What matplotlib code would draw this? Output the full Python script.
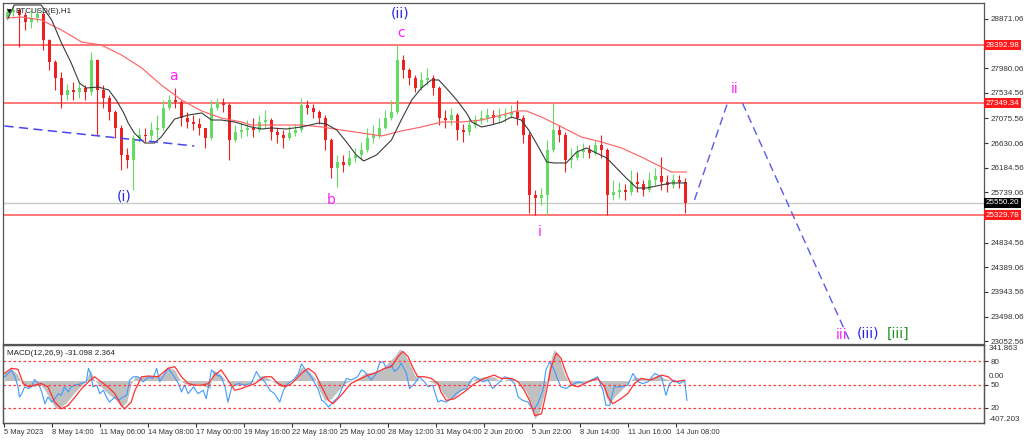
import numpy as np
import matplotlib
matplotlib.use("Agg")
import matplotlib.pyplot as plt

plt.rcParams['font.family'] = ['Liberation Sans', 'DejaVu Sans']

# ---- price data: one candle per 8 hourly bars ----
first_open = 28885
close = [28994, 29030, 28939, 28813, 28885, 28957, 28488, 28092, 27803, 27496,
         27586, 27550, 27622, 27550, 28128, 27586, 27442, 27190, 26901, 26414,
         26324, 26720, 26775, 26757, 26865, 26901, 27262, 27406, 27370, 27081,
         27009, 26973, 26901, 26720, 27262, 27352, 27316, 26684, 26829, 26865,
         26901, 26865, 27009, 27045, 26829, 26775, 26720, 26811, 26865, 27316,
         27262, 27190, 27081, 26684, 26179, 26288, 26233, 26360, 26414, 26504,
         26720, 26775, 26901, 27081, 27190, 28128, 27947, 27803, 27622, 27767,
         27803, 27622, 27081, 27045, 27135, 26865, 26829, 26955, 27045, 27081,
         27135, 27081, 27117, 27135, 27190, 27081, 26775, 25692, 25638, 25692,
         26504, 26865, 26775, 26324, 26360, 26468, 26504, 26450, 26594, 26504,
         25692, 25746, 25782, 25746, 25927, 25891, 25782, 25963, 26035, 25927,
         25873, 25963, 25927, 25550]
high = [29066, 29120, 29066, 28994, 29030, 29048, 28994, 28500, 28128, 27911,
        27695, 27731, 27731, 27677, 28272, 28150, 27677, 27496, 27226, 26955,
        26540, 26775, 26901, 26901, 27009, 27135, 27406, 27496, 27622, 27406,
        27190, 27135, 27081, 26901, 27406, 27442, 27442, 27350, 26955, 27009,
        27045, 27081, 27135, 27226, 27081, 26901, 26865, 26937, 26973, 27442,
        27406, 27334, 27226, 27135, 26720, 26414, 26414, 26504, 26540, 26648,
        26901, 26955, 27081, 27226, 27406, 28398, 28218, 27983, 27850, 27911,
        27983, 27850, 27660, 27226, 27262, 27180, 26973, 27081, 27135, 27226,
        27262, 27226, 27262, 27262, 27316, 27406, 27135, 26820, 25782, 25818,
        26684, 27352, 26955, 26820, 26540, 26594, 26630, 26594, 26684, 26775,
        26540, 25963, 25927, 25891, 26143, 26107, 25963, 26107, 26179, 26378,
        26053, 26071, 26053, 25999]
low = [28849, 28921, 28362, 28669, 28705, 28813, 28308, 27947, 27586, 27262,
       27406, 27406, 27442, 27406, 27496, 26775, 27262, 27045, 26720, 26143,
       26179, 25782, 26648, 26648, 26684, 26720, 26865, 27226, 27262, 26937,
       26901, 26865, 26775, 26540, 26684, 27226, 27190, 26324, 26648, 26720,
       26757, 26739, 26829, 26901, 26684, 26630, 26540, 26684, 26757, 26829,
       27153, 27081, 26973, 26504, 25999, 25837, 26107, 26215, 26288, 26324,
       26468, 26630, 26720, 26880, 27045, 27150, 27803, 27677, 27550, 27586,
       27677, 27496, 26955, 26901, 26955, 26684, 26648, 26775, 26901, 26973,
       27009, 26973, 26991, 27009, 27081, 26955, 26630, 25367, 25331, 25512,
       25331, 26468, 26648, 26107, 26179, 26324, 26360, 26360, 26414, 26360,
       25331, 25602, 25638, 25602, 25692, 25746, 25674, 25746, 25873, 25782,
       25746, 25818, 25818, 25367]

# moving averages (bar index, price)
red_ma_bar = [3, 23, 49, 76, 103, 129, 156, 183, 209, 236, 263, 289, 316, 329, 369, 396,
              423, 449, 476, 503, 529, 556, 583, 609, 636, 663, 683, 696, 716, 743, 769,
              796, 823, 849, 876, 889, 909]
red_ma = [28885, 28903, 28849, 28669, 28452, 28398, 28218, 27983, 27677, 27406, 27208,
          27081, 27009, 26955, 26955, 26955, 26919, 26865, 26811, 26757, 26847, 26919,
          27009, 27009, 27045, 27135, 27208, 27208, 27099, 26919, 26739, 26648, 26540,
          26378, 26197, 26107, 26107]
black_ma_bar = [5, 13, 49, 63, 76, 89, 100, 109, 125, 139, 149, 159, 165, 173, 187, 200,
                209, 219, 227, 245, 263, 276, 289, 307, 329, 343, 356, 376, 396, 419, 429,
                443, 456, 469, 479, 496, 516, 529, 543, 556, 569, 579, 589, 603, 616, 623,
                636, 649, 663, 676, 689, 699, 712, 723, 733, 749, 763, 776, 789, 803, 816,
                829, 843, 856, 876, 889, 909]
black_ma = [28885, 29120, 29120, 28849, 28434, 28073, 27713, 27622, 27640, 27586, 27406,
            27172, 26991, 26811, 26630, 26630, 26739, 26919, 27063, 27135, 27172, 27045,
            27045, 27009, 26919, 26883, 26901, 26883, 26919, 26991, 26973, 26865, 26648,
            26414, 26306, 26414, 26684, 27045, 27406, 27622, 27767, 27767, 27622, 27406,
            27172, 27009, 26919, 26955, 27009, 27099, 27045, 26865, 26558, 26288, 26270,
            26270, 26468, 26540, 26450, 26360, 26179, 25999, 25818, 25818, 25873, 25909,
            25909]

# levels and drawn lines
red_levels = [28392.98, 27349.34, 25329.78]
last_price = 25550.20
price_ticks = [28871.06, 27980.06, 27534.56, 27075.56, 26630.06, 26184.56, 25739.06,
               24834.56, 24389.06, 23943.56, 23498.06, 23052.56]
trend_bar = [0, 253]
trend_price = [26937, 26576]
proj_up_bar = [920, 964]
proj_up_price = [25602, 27349]
proj_down_bar = [984, 1128]
proj_down_price = [27349, 23022]

wave_text = ['(i)', 'a', 'b', '(ii)', 'c', 'i', 'ii', 'iii', '(iii)', '[iii]']
wave_bar = [160, 225, 436, 527, 529, 713, 973, 1116, 1152, 1192]
wave_price = [25656, 27839, 25602, 28975, 28615, 25025, 27604, 23166, 23185, 23185]
wave_color = ['#2424ee', '#ff22ff', '#ff22ff', '#2424ee', '#ff22ff', '#ff22ff',
              '#ff22ff', '#ff22ff', '#2424ee', '#1f8f1f']

# ---- MACD panel ----
macd_bar = [0, 9, 18, 23, 32, 40, 49, 54, 63, 69, 76, 85, 94, 103, 109, 114, 120, 129,
            138, 147, 156, 163, 169, 174, 183, 192, 200, 209, 218, 227, 234, 240, 249,
            258, 267, 274, 278, 287, 294, 303, 312, 325, 334, 343, 352, 360, 369, 378,
            387, 396, 405, 414, 420, 427, 436, 445, 454, 458, 471, 480, 493, 502, 511,
            520, 527, 533, 540, 547, 553, 565, 578, 585, 591, 600, 609, 618, 627, 640,
            653, 662, 671, 680, 689, 696, 702, 707, 713, 720, 727, 733, 740, 747, 756,
            765, 773, 787, 796, 802, 807, 813, 822, 831, 840, 849, 858, 871, 880, 889,
            898, 907]
macd = [69, 118, 53, -28, -60, -54, -44, -93, -206, -271, -255, -190, -109, -44, 5, 102,
        5, -60, -125, -174, -255, -206, -28, 37, 37, 44, 37, 53, 134, 102, 5, -28, -44,
        -28, -54, -76, 102, 69, 5, -44, -44, -28, -2, 53, 21, -21, -60, -28, 21, 128,
        102, 21, -93, -190, -174, -93, -28, -12, 21, 69, 86, 102, 167, 232, 303, 264,
        167, 53, 5, -2, -44, -125, -174, -158, -93, -44, 21, 37, 37, -12, 21, 21, -44,
        -109, -222, -368, -304, -125, 167, 303, 215, 53, -44, -28, -12, 21, -12, -158,
        -222, -158, -93, -28, 37, 21, 21, 53, 21, 5, -12, 5]
signal_bar = [0, 9, 18, 25, 32, 40, 49, 58, 67, 76, 85, 94, 103, 112, 120, 129, 138, 147,
              156, 160, 169, 174, 183, 192, 205, 218, 227, 236, 245, 254, 263, 272, 280,
              289, 298, 307, 316, 334, 347, 356, 365, 374, 383, 396, 405, 414, 423, 432,
              438, 449, 462, 471, 485, 493, 507, 516, 525, 531, 538, 545, 551, 560, 569,
              578, 582, 589, 600, 613, 627, 640, 653, 662, 676, 685, 693, 700, 707, 716,
              722, 729, 736, 742, 749, 756, 765, 778, 791, 800, 805, 811, 822, 831, 840,
              849, 862, 876, 885, 893, 907]
signal = [69, 118, 108, -28, -60, -44, -28, -60, -206, -271, -238, -158, -76, -12, 37,
          -12, -60, -125, -238, -271, -206, -93, 37, 44, 37, 118, 134, 37, -28, -44, -44,
          -28, 53, 102, 5, -93, -76, -28, 37, 37, -28, -60, -28, 69, 118, 69, -60, -190,
          -222, -141, -28, 5, 53, 69, 118, 134, 232, 280, 232, 118, 37, 37, 21, -28, -109,
          -190, -174, -109, -28, 21, 53, 21, 21, -12, -93, -190, -336, -320, -125, 134,
          264, 215, 69, -44, -60, -12, 21, -60, -158, -222, -174, -125, -28, 21, 5, 53,
          37, -12, 5]
fast_bar = [0, 5, 9, 14, 18, 20, 23, 27, 32, 36, 40, 45, 49, 54, 58, 63, 67, 72, 76, 80,
            85, 89, 94, 103, 109, 112, 115, 118, 123, 127, 132, 136, 140, 147, 152, 158,
            163, 167, 172, 178, 185, 192, 198, 203, 207, 214, 218, 225, 232, 236, 240,
            245, 252, 258, 265, 269, 276, 283, 289, 294, 298, 303, 312, 320, 329, 336,
            340, 347, 354, 360, 367, 372, 378, 385, 392, 396, 403, 409, 414, 418, 423,
            427, 432, 438, 445, 452, 456, 462, 471, 476, 480, 489, 496, 500, 505, 509,
            516, 520, 525, 529, 536, 540, 547, 553, 560, 565, 571, 578, 582, 589, 596,
            602, 609, 616, 622, 627, 631, 638, 645, 651, 658, 667, 673, 680, 685, 691,
            698, 705, 711, 718, 722, 727, 733, 738, 742, 749, 756, 765, 773, 782, 791,
            798, 802, 807, 813, 822, 831, 838, 845, 851, 858, 867, 876, 882, 887, 893,
            900, 907, 910]
fast = [37, 69, 102, 37, -60, -158, -125, -60, -76, -60, 11, -28, -93, -222, -158, -206,
        -174, -125, -141, -60, -109, -60, -44, -28, -12, 118, 69, -60, -44, -125, -93,
        -158, -206, -158, -190, -158, -141, 5, 37, 37, -12, 37, 21, 118, -12, 69, 118,
        53, -28, -109, -44, -125, -60, -125, -93, -174, 102, 53, 37, -60, -206, -60, -28,
        -44, -28, 86, 37, -12, -93, -125, -206, -93, -28, 5, 69, 160, 86, 37, -28, -76,
        -190, -206, -255, -206, -158, -44, 21, 5, 37, 102, 86, 5, 69, 167, 183, 118, 150,
        86, 118, 167, 69, -76, -28, 37, -12, -60, -44, -206, -190, -206, -174, -125, -93,
        -76, 5, 37, 21, -12, 5, -76, -28, 37, 21, -28, -158, -190, -206, -287, -222, -93,
        102, 183, 102, 5, -60, -76, -44, -12, -28, 5, 37, -93, -238, -238, -60, -60, -44,
        69, -12, -28, -12, 69, 37, -141, -28, 5, -28, -2, -190]
stoch_levels = [80, 50, 20]

date_bar = [0, 64, 128, 192, 256, 320, 384, 448, 512, 576, 640, 704, 768, 832, 896]
date_labels = ['5 May 2023', '8 May 14:00', '11 May 06:00', '14 May 08:00', '17 May 00:00',
               '19 May 16:00', '22 May 18:00', '25 May 10:00', '28 May 12:00',
               '31 May 04:00', '2 Jun 20:00', '5 Jun 22:00', '8 Jun 14:00',
               '11 Jun 16:00', '14 Jun 08:00']

UP = '#62dc62'
DOWN = '#f02020'
FS = 5.8
FS_DATE = 5.4

fig = plt.figure(figsize=(10.24, 4.41), dpi=100)
ax = fig.add_axes([0.0029, 0.2200, 0.958, 0.7732])
ax2 = fig.add_axes([0.0029, 0.0408, 0.958, 0.1769], sharex=ax)

# candles
c = np.array(close, dtype=float)
h = np.array(high, dtype=float)
l = np.array(low, dtype=float)
o = np.r_[first_open, c[:-1]]
xb = np.arange(len(c)) * 8 + 4
cols = np.where(c >= o, UP, DOWN)

for lv in red_levels:
    ax.axhline(lv, color='#ff5454', lw=1.1, zorder=1)
ax.axhline(last_price, color='#c8c8c8', lw=1, zorder=1)

ax.vlines(xb, l, h, colors=cols, lw=0.8, zorder=2)
ax.bar(xb, np.maximum(np.abs(c - o), 10), bottom=np.minimum(o, c), width=4.5,
       color=cols, linewidth=0, zorder=3)

ax.plot(red_ma_bar, red_ma, color='#ff6464', lw=0.85, zorder=4)
ax.plot(black_ma_bar, black_ma, color='#3a3a3a', lw=0.8, zorder=4)

dash = (0, (6, 3.5))
ax.plot(trend_bar, trend_price, color='#4646ee', lw=1.1, ls=dash, zorder=4)
ax.plot(proj_up_bar, proj_up_price, color='#5a5aee', lw=1, ls=dash, zorder=4)
ax.plot(proj_down_bar, proj_down_price, color='#5a5aee', lw=1, ls=dash, zorder=4)

for t, b, p, col in zip(wave_text, wave_bar, wave_price, wave_color):
    ax.text(b, p, t, color=col, fontsize=10, family='DejaVu Sans',
            ha='center', va='center', zorder=5)

ax.text(0.0045, 0.982, '\u25bc', transform=ax.transAxes, fontsize=4.5,
        family='DejaVu Sans', va='top', ha='left')
ax.text(0.0125, 0.985, 'BTCUSD(E),H1', transform=ax.transAxes, fontsize=FS,
        va='top', ha='left', color='#222222')

ax.set_xlim(-2, 1306)
ax.set_ylim(23004, 29156)
ax.yaxis.tick_right()
ax.set_yticks(price_ticks)
ax.set_yticklabels([f'{p:.2f}' for p in price_ticks])
ax.tick_params(axis='y', labelsize=FS, length=3, pad=1.5, colors='#333333')
ax.tick_params(axis='x', bottom=False, labelbottom=False)

ytr = ax.get_yaxis_transform()
for lv in red_levels:
    ax.text(1.002, lv, f'{lv:.2f}', transform=ytr, color='white', fontsize=FS,
            va='center', ha='left',
            bbox=dict(boxstyle='square,pad=0.18', fc='#ff1a1a', ec='none'))
ax.text(1.002, last_price, f'{last_price:.2f}', transform=ytr, color='white',
        fontsize=FS, va='center', ha='left',
        bbox=dict(boxstyle='square,pad=0.18', fc='black', ec='none'))

# MACD
ax2.fill_between(macd_bar, 0, macd, color='#c0c0c0', lw=0, zorder=1)
ax2.plot(fast_bar, fast, color='#3d9bff', lw=0.8, zorder=3)
ax2.plot(signal_bar, signal, color='#ff3030', lw=0.9, zorder=4)
ax2.set_ylim(-407.203, 341.863)
ax2.set_yticks([])
ax2.text(0.004, 0.93, 'MACD(12,26,9) -31.098 2.364', transform=ax2.transAxes,
         fontsize=FS, va='top', ha='left', color='#222222')

ax3 = ax2.twinx()
ax3.set_ylim(0.4, 100.9)
for lv in stoch_levels:
    ax3.axhline(lv, color='#ff3a3a', lw=0.9, ls=(0, (2, 2)))
ax3.set_yticks(stoch_levels)
ax3.set_yticklabels([str(v) for v in stoch_levels])
ax3.tick_params(axis='y', labelsize=FS, length=3, pad=1.5, colors='#333333')

y2tr = ax2.get_yaxis_transform()
ax2.text(1.005, 341.863, '341.863', transform=y2tr, fontsize=FS, va='top',
         ha='left', color='#333333')
ax2.text(1.005, 8, '0.00', transform=y2tr, fontsize=FS, va='bottom',
         ha='left', color='#333333')
ax2.text(1.005, -407.203, '-407.203', transform=y2tr, fontsize=FS, va='bottom',
         ha='left', color='#333333')

ax2.set_xticks(date_bar)
ax2.set_xticklabels(date_labels, ha='left')
ax2.tick_params(axis='x', labelsize=FS_DATE, length=3, pad=1.5, colors='#333333')

for a in (ax, ax2, ax3):
    for s in a.spines.values():
        s.set_color('#555555')
        s.set_linewidth(0.9)

fig.savefig('out.png', dpi=100, facecolor='white')
